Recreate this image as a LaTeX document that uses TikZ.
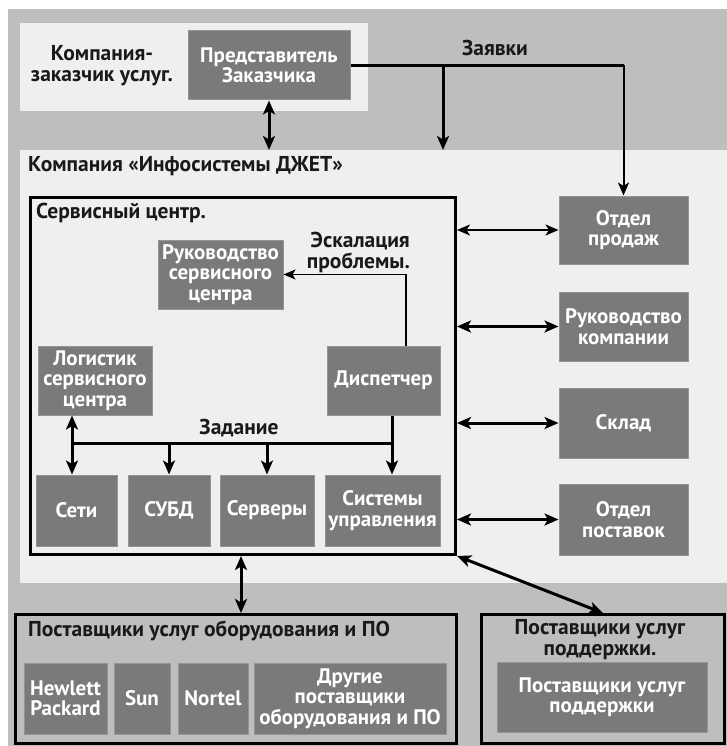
\documentclass[tikz,border=0pt]{standalone}
\usepackage{fontspec}
\setmainfont{PT Sans}
\usetikzlibrary{arrows.meta}
\definecolor{bggray}{HTML}{BEBEBE}
\definecolor{lightbg}{HTML}{EFEFEF}
\definecolor{boxgray}{HTML}{7A7A7A}
\begin{document}
\begin{tikzpicture}[x=1pt,y=-1pt,
  box/.style={fill=boxgray, draw=boxgray!80!white, line width=1pt, text=white,
    font=\fontsize{21}{20.5}\selectfont\bfseries, align=center, inner sep=0pt,
    minimum height=69pt},
  area/.style={anchor=north west, inner sep=0pt, fill=lightbg},
  frame/.style={anchor=north west, inner sep=0pt, draw=black, line width=3pt},
  lbl/.style={font=\fontsize{21.5}{21}\selectfont\bfseries, inner sep=0pt, text=black!90, align=center},
  conn/.style={line width=3pt, >={Stealth[length=14pt,width=12pt,inset=3.5pt]}},
  mid/.style={line width=2pt, >={Stealth[length=13pt,width=11pt,inset=3.5pt]}},
  slim/.style={line width=1.5pt, >={Stealth[length=12pt,width=10pt,inset=3pt]}},
]
\useasboundingbox (0,0) rectangle (727,746);
\fill[bggray] (8,9) rectangle (727,746);

% customer company
\node[area, minimum width=348pt, minimum height=88pt] (cust) at (20,23) {};
\node[box, minimum width=162pt] (rep) at (269,65.5) {Представитель\\Заказчика};
\node[lbl] (custl) at (102,66) {Компания-\\заказчик услуг.};
\node[lbl] (zay) at (495,48) {Заявки};

% Infosystems JET
\node[area, minimum width=707pt, minimum height=433pt] (info) at (20,150) {};
\node[lbl, anchor=west] (infol) at (28,166) {Компания «Инфосистемы ДЖЕТ»};

% service centre
\node[frame, fill=lightbg, minimum width=425pt, minimum height=357pt] (sc) at (29,196) {};
\node[lbl, anchor=west] (scl) at (36,213) {Сервисный центр.};
\node[box, minimum width=125pt] (rsc) at (220.5,274.5) {Руководство\\сервисного\\центра};
\node[lbl, anchor=east, align=right] (escl) at (410,252) {Эскалация\\проблемы.};
\node[box, minimum width=114pt] (log) at (95,380.5) {Логистик\\сервисного\\центра};
\node[box, minimum width=113pt] (disp) at (383.5,380.5) {Диспетчер};
\node[lbl] (zad) at (239,428) {Задание};
\node[box, minimum width=81pt, minimum height=71pt] (seti) at (76.5,510.5) {Сети};
\node[box, minimum width=82pt, minimum height=71pt] (subd) at (169,510.5) {СУБД};
\node[box, minimum width=94pt, minimum height=71pt] (serv) at (267,510.5) {Серверы};
\node[box, minimum width=115pt, minimum height=71pt] (sysu) at (382.5,510.5) {Системы\\управления};

% right departments
\node[box, minimum width=129pt, minimum height=68pt] (sales) at (623.5,230) {Отдел\\продаж};
\node[box, minimum width=129pt] (mgmt) at (623.5,326.5) {Руководство\\компании};
\node[box, minimum width=129pt, minimum height=70pt] (sklad) at (623.5,423) {Склад};
\node[box, minimum width=129pt, minimum height=71pt] (supply) at (623.5,519.5) {Отдел\\поставок};

% hardware / software vendors
\node[frame, minimum width=441pt, minimum height=129pt] (hw) at (14,613) {};
\node[lbl, anchor=west] (hwl) at (28,631) {Поставщики услуг оборудования и ПО};
\node[box, minimum width=83pt, minimum height=71pt] (hp) at (65.5,698.5) {Hewlett\\Packard};
\node[box, minimum width=56pt, minimum height=71pt] (sun) at (142,698.5) {Sun};
\node[box, minimum width=70pt, minimum height=71pt] (nortel) at (213,698.5) {Nortel};
\node[box, minimum width=192pt, minimum height=71pt] (other) at (350,698.5) {Другие\\поставщики\\оборудования и ПО};

% support vendors
\node[frame, minimum width=243pt, minimum height=129pt] (sup) at (480,613) {};
\node[lbl] (supl) at (600,640) {Поставщики услуг\\поддержки.};
\node[box, minimum width=210pt, minimum height=70pt] (supin) at (602,697) {Поставщики услуг\\поддержки};

% connectors: requests
\coordinate (z1) at (sales.north |- rep.east);
\coordinate (z2) at (443,65.5);
\draw[conn] (rep.east) -- (z1);
\draw[mid,->] (z1) -- (sales.north);
\draw[conn,->] (z2) -- (z2 |- info.north);
\draw[conn,<->] (rep.south) -- (rep.south |- info.north);

% escalation
\draw[slim,->] ([xshift=22.5pt]disp.north) |- (rsc.east);

% task bus
\coordinate (b1) at (72,443);
\coordinate (b2) at (392,443);
\draw[conn] (b1) -- (b2);
\draw[conn,<->] (log.south -| b1) -- (seti.north -| b1);
\draw[conn,->] (disp.south -| b2) -- (sysu.north -| b2);
\draw[conn,->] (subd.north |- b1) -- (subd.north);
\draw[conn,->] (serv.north |- b1) -- (serv.north);

% departments
\draw[mid,<->] (sc.east |- sales.west) -- (sales.west);
\draw[conn,<->] (sc.east |- mgmt.west) -- (mgmt.west);
\draw[conn,<->] (sc.east |- sklad.west) -- (sklad.west);
\draw[conn,<->] (sc.east |- supply.west) -- (supply.west);

% vendors
\coordinate (h) at (241,0);
\draw[conn,<->] (sc.south -| h) -- (hw.north -| h);
\draw[conn,<->] (sc.south east) -- (sup.north);
\end{tikzpicture}
\end{document}
